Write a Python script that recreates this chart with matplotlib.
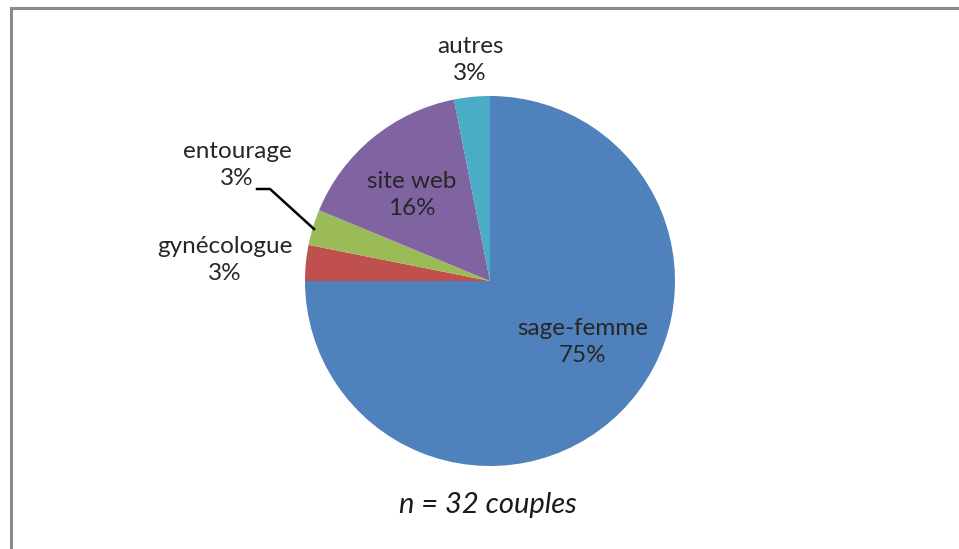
import matplotlib.pyplot as plt
from matplotlib.lines import Line2D

# data
labels = ["sage-femme", "gynécologue", "entourage", "site web", "autres"]
counts = [24, 1, 1, 5, 1]
pct_labels = ["75%", "3%", "3%", "16%", "3%"]
colors = ["#4F81BD", "#C0504D", "#9BBB59", "#8064A2", "#4BACC6"]

# label anchor points (pixel coords of the original picture, y from top)
label_pos = [(583, 342), (225, 260), (237, 165), (412, 195), (470, 60)]

W, H = 959, 549
fig = plt.figure(figsize=(W / 100, H / 100), dpi=100)
ax = fig.add_axes([0, 0, 1, 1])

ax.pie(counts, colors=colors, startangle=90, counterclock=False,
       center=(490, H - 281), radius=185,
       wedgeprops={"linewidth": 0})
ax.set_xlim(0, W)
ax.set_ylim(0, H)
ax.set_aspect("equal")
ax.axis("off")

font = "Lato"
for name, pct, (x, y) in zip(labels, pct_labels, label_pos):
    ax.text(x, H - y, name + "\n" + pct, ha="center", va="center",
            fontsize=17.5, family=font, color="#262626", linespacing=1.4)

# leader line for entourage
ax.plot([257, 270, 314], [H - 189, H - 189, H - 229], color="black", lw=1.8)

ax.text(488, H - 505, "n = 32 couples", ha="center", va="center",
        fontsize=21, family=font, style="italic", color="#1a1a1a")

# chart frame (right and bottom edges fall outside the picture)
fig.add_artist(Line2D([10.5 / W, 10.5 / W], [0, 1 - 7.5 / H],
                      transform=fig.transFigure, color="#8a8a8a", lw=2.2))
fig.add_artist(Line2D([10.5 / W, 1], [1 - 7.5 / H, 1 - 7.5 / H],
                      transform=fig.transFigure, color="#8a8a8a", lw=2.2))

fig.savefig("out.png", dpi=100)
